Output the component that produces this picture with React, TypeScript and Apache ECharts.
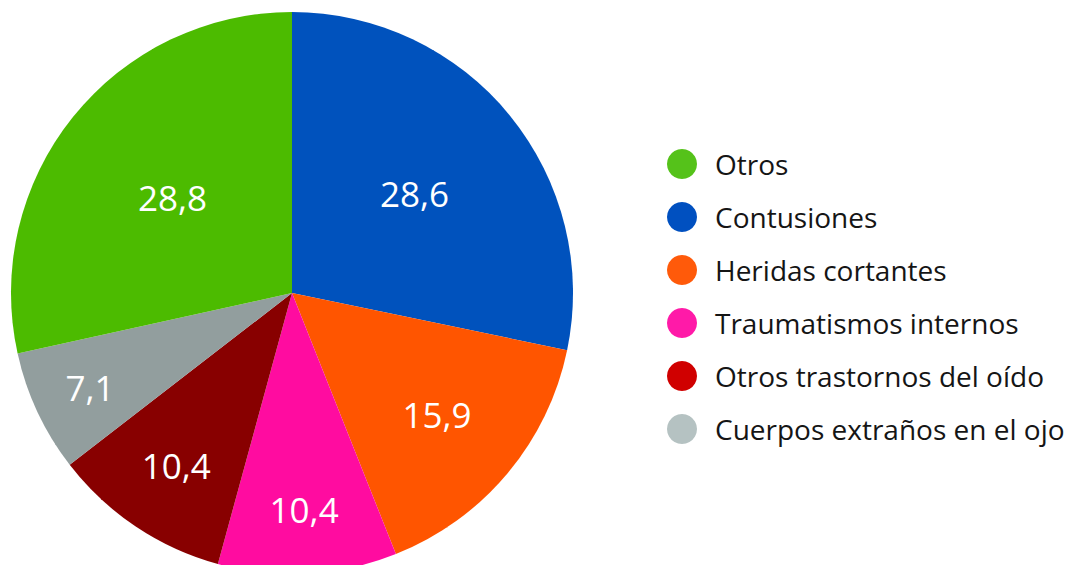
import React, { useEffect, useRef } from "react";
import * as echarts from "echarts";

const categories = [
  "Contusiones",
  "Heridas cortantes",
  "Traumatismos internos",
  "Otros trastornos del oído",
  "Cuerpos extraños en el ojo",
  "Otros",
];
const values = [28.6, 15.9, 10.4, 10.4, 7.1, 28.8];
const sliceColors = ["#0052bd", "#ff5500", "#ff0ca0", "#880000", "#929e9e", "#4cbb00"];
const legendOrder = [
  "Otros",
  "Contusiones",
  "Heridas cortantes",
  "Traumatismos internos",
  "Otros trastornos del oído",
  "Cuerpos extraños en el ojo",
];
const legendColors = ["#55c21a", "#0050c0", "#ff5a0a", "#ff1aa8", "#d00000", "#b5c2c2"];
const labelRadialFactors = [0.55, 0.66, 0.755, 0.725, 0.777, 0.534];

const CX = 292;
const CY = 293;
const R = 281;

export default function App() {
  const ref = useRef<HTMLDivElement>(null);
  useEffect(() => {
    if (!ref.current) return;
    const chart = echarts.init(ref.current, null, { renderer: "svg" });
    chart.setOption({
      animation: false,
      backgroundColor: "#ffffff",
      legend: {
        orient: "vertical",
        left: 667,
        top: 149,
        padding: 0,
        itemWidth: 56,
        itemHeight: 30,
        itemGap: 23,
        icon: "circle",
        selectedMode: false,
        textStyle: { fontSize: 28, color: "#151515", fontFamily: "Open Sans" },
        data: legendOrder.map((n, i) => ({ name: n, itemStyle: { color: legendColors[i] } })),
      },
      series: [
        {
          type: "pie",
          center: [CX, CY],
          radius: R,
          startAngle: 90,
          clockwise: true,
          avoidLabelOverlap: false,
          itemStyle: { borderWidth: 0 },
          label: {
            position: "inside",
            color: "#ffffff",
            fontSize: 35,
            fontFamily: "Open Sans",
            formatter: (p: any) => String(p.value).replace(".", ","),
          },
          labelLayout: (p: any) => {
            const f = labelRadialFactors[p.dataIndex] / 0.5;
            const lx = p.labelRect.x + p.labelRect.width / 2;
            const ly = p.labelRect.y + p.labelRect.height / 2;
            const nx = CX + (lx - CX) * f;
            const ny = CY + (ly - CY) * f;
            return { x: nx, y: ny, align: "center", verticalAlign: "middle" };
          },
          data: categories.map((c, i) => ({
            name: c,
            value: values[i],
            itemStyle: { color: sliceColors[i] },
          })),
        },
      ],
    });
    return () => chart.dispose();
  }, []);
  return (
    <div
      ref={ref}
      style={{ position: "absolute", left: 0, top: 0, width: 1076, height: 565 }}
    />
  );
}
